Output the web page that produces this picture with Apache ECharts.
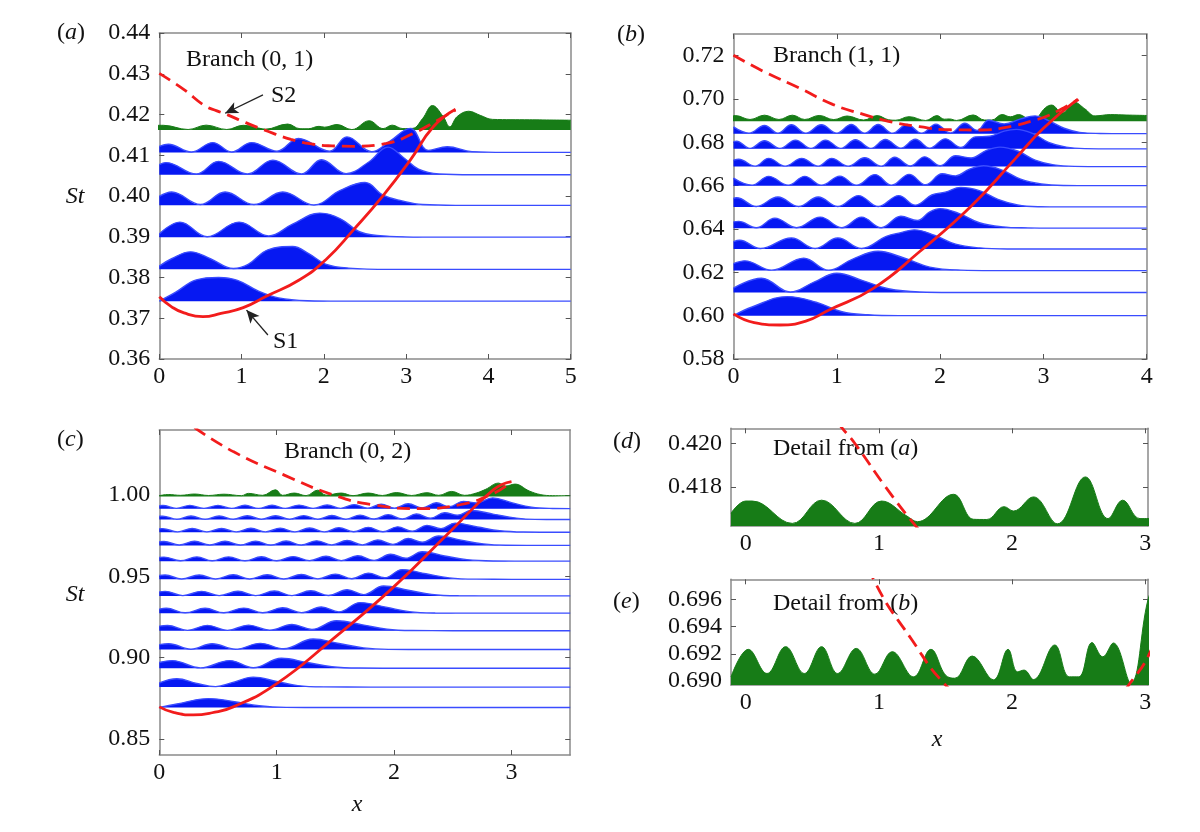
<!DOCTYPE html>
<html>
<head>
<meta charset="utf-8">
<script src="https://cdn.jsdelivr.net/npm/echarts@6/dist/echarts.min.js"></script>
<style>
html, body { margin: 0; background: #fff; }
#chart { width: 1200px; height: 832px; }
</style>
</head>
<body>
<div id="chart"></div>
<script>
// ---- axis ranges and ticks (a, b, c, d, e) ----
const xRanges = [[0, 5], [0, 4], [0, 3.5], [-0.11, 3.02], [-0.11, 3.02]];
const yRanges = [[0.36, 0.44], [0.58, 0.73], [0.84, 1.04], [0.4162, 0.4207], [0.6897, 0.6975]];
const xTicksA = [0, 1, 2, 3, 4, 5];
const xTicksB = [0, 1, 2, 3, 4];
const xTicksC = [0, 1, 2, 3];
const xTicksDE = [0, 1, 2, 3];
const yTicksA = [0.36, 0.37, 0.38, 0.39, 0.40, 0.41, 0.42, 0.43, 0.44];
const yTicksB = [0.58, 0.60, 0.62, 0.64, 0.66, 0.68, 0.70, 0.72];
const yTicksC = [0.85, 0.90, 0.95, 1.00];
const yTicksD = [0.418, 0.420];
const yTicksE = [0.690, 0.692, 0.694, 0.696];

// ---- panel (a), branch (0,1): baselines and profiles [x, height above baseline] ----
const basesA = [0.3742, 0.3820, 0.3899, 0.3977, 0.4052, 0.4107];
const rowA1 = [[0,0],[0.2,0.0022],[0.45,0.0052],[0.72,0.0058],[0.95,0.0051],[1.2,0.0025],[1.45,0.0008],[1.8,0.0001],[2.2,0],[5,0]];
const rowA2 = [[0,0.0008],[0.15,0.0026],[0.38,0.0043],[0.62,0.0026],[0.9,0.0002],[1.08,0.0012],[1.32,0.0048],[1.62,0.0056],[1.82,0.0038],[2.02,0.0013],[2.3,0.0003],[2.8,0],[5,0]];
const rowA3 = [[0,0.0008],[0.25,0.0037],[0.58,0.0001],[0.97,0.0037],[1.33,0.0003],[1.62,0.0032],[1.95,0.0059],[2.2,0.0045],[2.45,0.0012],[2.8,0.0002],[3.2,0],[5,0]];
const rowA4 = [[0,0.0022],[0.15,0.0033],[0.5,0.0002],[0.8,0.0033],[1.15,0.0002],[1.5,0.0033],[1.88,0.0001],[2.2,0.0037],[2.5,0.0056],[2.72,0.0025],[2.95,0.0011],[3.2,0.0002],[3.6,0],[5,0]];
const rowA5 = [[0,0.0025],[0.08,0.003],[0.45,0.0002],[0.72,0.0033],[1.07,0.0002],[1.38,0.0036],[1.73,0.0002],[1.97,0.0037],[2.27,0.0003],[2.55,0.0032],[2.78,0.0068],[2.97,0.0042],[3.15,0.0014],[3.4,0.0002],[3.8,0],[5,0]];
const rowA6 = [[0,0.0015],[0.11,0.002],[0.39,0.0001],[0.65,0.0024],[0.88,0.0001],[1.12,0.0024],[1.43,0.0003],[1.69,0.0034],[2.07,0.0003],[2.28,0.0038],[2.58,0.0002],[2.8,0.0027],[3.05,0.0059],[3.27,0.0005],[3.5,0.0014],[3.8,0.0002],[4.2,0],[5,0]];
const greenBaseA = 0.4162;
const greenA = [[-0.11,0.41679],[0,0.41735],[0.05,0.41735],[0.35,0.41632],[0.57,0.41739],[0.82,0.41632],[1.02,0.41735],[1.21,0.41666],[1.29,0.4164],[1.56,0.41766],[1.71,0.41651],[1.81,0.4165],[1.94,0.41709],[2.01,0.41689],[2.16,0.41754],[2.34,0.4163],[2.55,0.41846],[2.72,0.41654],[2.83,0.41739],[2.96,0.41654],[3.08,0.4166],[3.2,0.419],[3.32,0.4222],[3.45,0.4195],[3.53,0.417],[3.62,0.4195],[3.76,0.4208],[3.9,0.4198],[4.05,0.4188],[4.5,0.4187],[5,0.4186]];
const s1A = [[0,0.3753],[0.15,0.3728],[0.3,0.3713],[0.53,0.3704],[0.75,0.3712],[1.02,0.3726],[1.3,0.3754],[1.7,0.3794],[2.03,0.3845],[2.36,0.3917],[2.72,0.4001],[3.05,0.4088],[3.33,0.417],[3.6,0.4213]];
const s2A = [[0,0.4301],[0.3,0.4261],[0.55,0.4222],[0.7,0.4209],[0.82,0.42],[1.05,0.418],[1.27,0.41625],[1.6,0.4139],[1.87,0.4127],[2.1,0.4123],[2.36,0.4122],[2.76,0.4129],[3.09,0.4154],[3.4,0.4188],[3.6,0.4211]];
const arrowS2 = [[1.26, 0.4248], [0.80, 0.4203]];
const arrowS1 = [[1.32, 0.3659], [1.06, 0.3720]];

// ---- panel (b), branch (1,1) ----
const basesB = [0.6000, 0.6107, 0.6208, 0.6308, 0.6404, 0.6502, 0.6600, 0.6688, 0.6770, 0.6840];
const rowB1 = [[0,0],[0.18,0.004],[0.52,0.0088],[0.8,0.0062],[1.05,0.0018],[1.3,0.0004],[1.6,0],[4,0]];
const rowB2 = [[0,0.002],[0.27,0.0066],[0.55,0.0002],[0.78,0.0048],[1.0,0.0089],[1.25,0.0055],[1.5,0.0017],[1.8,0.0002],[2.1,0],[4,0]];
const rowB3 = [[0,0.0032],[0.11,0.0045],[0.37,0.0002],[0.68,0.0057],[0.92,0.0002],[1.15,0.0052],[1.4,0.0089],[1.65,0.0058],[1.9,0.0016],[2.2,0.0002],[2.5,0],[4,0]];
const rowB4 = [[0,0.0034],[0.06,0.004],[0.26,0.0002],[0.56,0.0051],[0.79,0.0002],[1.01,0.0051],[1.24,0.0002],[1.48,0.0058],[1.62,0.0075],[1.75,0.0088],[1.95,0.0062],[2.15,0.0022],[2.38,0.0005],[2.65,0],[4,0]];
const rowB5 = [[0,0.0029],[0.05,0.0031],[0.22,0.0002],[0.4,0.0046],[0.61,0.0002],[0.84,0.0051],[1.05,0.0002],[1.24,0.0051],[1.43,0.0002],[1.62,0.0055],[1.78,0.0035],[1.9,0.0075],[2.0,0.009],[2.18,0.0068],[2.38,0.0025],[2.6,0.0006],[2.85,0.0001],[3.1,0],[4,0]];
const rowB6 = [[0,0.004],[0.03,0.0042],[0.22,0.0002],[0.43,0.0046],[0.63,0.0002],[0.82,0.0046],[1.01,0.0002],[1.21,0.0052],[1.4,0.0002],[1.6,0.0052],[1.76,0.0008],[1.92,0.0055],[2.05,0.0068],[2.2,0.009],[2.38,0.0075],[2.56,0.0035],[2.75,0.0009],[2.95,0.0001],[3.2,0],[4,0]];
const rowB7 = [[0,0.0035],[0.18,0.0002],[0.34,0.0043],[0.53,0.0002],[0.69,0.0043],[0.85,0.0002],[1.03,0.0044],[1.19,0.0002],[1.37,0.0051],[1.53,0.0002],[1.7,0.0052],[1.86,0.0004],[2.02,0.0055],[2.15,0.0045],[2.28,0.0075],[2.42,0.0092],[2.6,0.0072],[2.78,0.003],[2.98,0.0008],[3.2,0.0001],[3.5,0],[4,0]];
const rowB8 = [[0,0.003],[0.05,0.0034],[0.21,0.0002],[0.34,0.0038],[0.5,0.0002],[0.66,0.0038],[0.82,0.0002],[0.95,0.0038],[1.11,0.0002],[1.27,0.0041],[1.43,0.0002],[1.56,0.0043],[1.71,0.0003],[1.85,0.0045],[2.0,0.0004],[2.15,0.005],[2.3,0.004],[2.45,0.0075],[2.58,0.009],[2.75,0.0072],[2.92,0.003],[3.1,0.0008],[3.3,0.0001],[3.6,0],[4,0]];
const rowB9 = [[0,0.0033],[0.03,0.0035],[0.16,0.0002],[0.3,0.0037],[0.45,0.0002],[0.6,0.004],[0.75,0.0002],[0.89,0.004],[1.04,0.0002],[1.18,0.0042],[1.33,0.0002],[1.47,0.0043],[1.62,0.0003],[1.76,0.0044],[1.9,0.0003],[2.05,0.0046],[2.2,0.0006],[2.34,0.0055],[2.48,0.0058],[2.62,0.0082],[2.74,0.009],[2.9,0.007],[3.05,0.003],[3.22,0.0008],[3.4,0.0001],[3.7,0],[4,0]];
const rowB10 = [[0,0.0031],[0.15,0.0002],[0.3,0.0038],[0.43,0.0002],[0.56,0.0041],[0.7,0.0002],[0.85,0.0041],[1.0,0.0002],[1.14,0.0042],[1.27,0.0002],[1.4,0.0042],[1.54,0.0002],[1.68,0.0043],[1.82,0.0002],[1.96,0.0044],[2.1,0.0003],[2.24,0.0048],[2.36,0.0015],[2.47,0.0062],[2.62,0.0045],[2.78,0.0068],[2.92,0.0082],[3.05,0.006],[3.2,0.0025],[3.35,0.0006],[3.55,0.0001],[3.8,0],[4,0]];
const greenBaseB = 0.6897;
const greenB = [[-0.11,0.6903],[0.02,0.69233],[0.16,0.69055],[0.3,0.69253],[0.44,0.69055],[0.57,0.69253],[0.69,0.69055],[0.83,0.6924],[0.97,0.6905],[1.1,0.69216],[1.26,0.6903],[1.39,0.69233],[1.5,0.69043],[1.57,0.6902],[1.7,0.69184],[1.86,0.69008],[1.97,0.69233],[2.04,0.69067],[2.09,0.6908],[2.16,0.6901],[2.32,0.69265],[2.43,0.6903],[2.5,0.6903],[2.6,0.69283],[2.68,0.69178],[2.76,0.6928],[2.89,0.68985],[3.02,0.696],[3.08,0.6972],[3.18,0.6935],[3.3,0.6985],[3.4,0.6955],[3.5,0.6922],[3.65,0.6928],[3.8,0.6926],[4,0.6924]];
const s1B = [[0,0.6008],[0.2,0.5968],[0.45,0.5957],[0.7,0.5975],[0.92,0.6025],[1.35,0.6125],[1.8,0.6295],[2.3,0.6505],[2.72,0.672],[3.0,0.6865],[3.33,0.6998]];
const s2B = [[0,0.7202],[0.3,0.7125],[0.64,0.705],[0.96,0.6975],[1.25,0.693],[1.5,0.6897],[1.8,0.6872],[2.1,0.6858],[2.4,0.6857],[2.7,0.6875],[2.89,0.6899],[3.02,0.6918],[3.2,0.696],[3.34,0.6998]];

// ---- panel (c), branch (0,2) ----
const basesC = [0.8692, 0.8818, 0.8934, 0.9049, 0.9165, 0.9273, 0.9379, 0.9481, 0.9593, 0.9690, 0.9771, 0.9849, 0.9916];
const rowC1 = [[0,0],[0.15,0.0022],[0.42,0.0055],[0.64,0.0036],[0.85,0.0011],[1.08,0.0001],[1.4,0],[3.5,0]];
const rowC2 = [[0,0.0025],[0.15,0.0051],[0.32,0.0022],[0.48,0.0003],[0.62,0.0027],[0.8,0.0061],[1.0,0.0035],[1.18,0.0009],[1.4,0.0001],[1.8,0],[3.5,0]];
const rowC3 = [[0,0.0035],[0.11,0.0047],[0.35,0.0002],[0.6,0.0047],[0.8,0.0003],[1.04,0.0061],[1.26,0.0035],[1.47,0.0009],[1.7,0.0001],[2.1,0],[3.5,0]];
const rowC4 = [[0,0.003],[0.08,0.0036],[0.27,0.0002],[0.45,0.0036],[0.65,0.0002],[0.86,0.0038],[1.06,0.0005],[1.31,0.0065],[1.53,0.0037],[1.74,0.001],[1.95,0.0001],[2.3,0],[3.5,0]];
const rowC5 = [[0,0.0028],[0.07,0.0032],[0.24,0.0002],[0.41,0.0033],[0.58,0.0002],[0.76,0.0034],[0.94,0.0003],[1.13,0.0038],[1.3,0.0008],[1.51,0.0061],[1.73,0.0036],[1.94,0.0009],[2.15,0.0001],[2.5,0],[3.5,0]];
const rowC6 = [[0,0.0025],[0.06,0.003],[0.22,0.0002],[0.39,0.003],[0.55,0.0002],[0.72,0.0031],[0.88,0.0002],[1.05,0.0033],[1.21,0.0003],[1.38,0.0038],[1.53,0.0008],[1.71,0.0065],[1.93,0.0037],[2.13,0.0009],[2.35,0.0001],[2.7,0],[3.5,0]];
const rowC7 = [[0,0.0025],[0.05,0.0028],[0.2,0.0002],[0.36,0.0028],[0.51,0.0002],[0.67,0.0029],[0.82,0.0002],[0.98,0.003],[1.13,0.0002],[1.29,0.0032],[1.44,0.0003],[1.6,0.0038],[1.74,0.0008],[1.91,0.0061],[2.12,0.0035],[2.32,0.0009],[2.55,0.0001],[2.9,0],[3.5,0]];
const rowC8 = [[0,0.0024],[0.05,0.0027],[0.19,0.0002],[0.34,0.0027],[0.48,0.0002],[0.63,0.0028],[0.77,0.0002],[0.92,0.0028],[1.06,0.0002],[1.21,0.003],[1.35,0.0003],[1.5,0.0032],[1.64,0.0004],[1.78,0.0038],[1.92,0.001],[2.07,0.006],[2.27,0.0034],[2.47,0.0009],[2.7,0.0001],[3.0,0],[3.5,0]];
const rowC9 = [[0,0.0023],[0.04,0.0025],[0.18,0.0002],[0.32,0.0026],[0.45,0.0002],[0.59,0.0026],[0.73,0.0002],[0.87,0.0027],[1.0,0.0002],[1.14,0.0028],[1.28,0.0003],[1.42,0.003],[1.55,0.0003],[1.69,0.0033],[1.83,0.0005],[1.97,0.0042],[2.1,0.0018],[2.24,0.0058],[2.43,0.0032],[2.62,0.0009],[2.85,0.0001],[3.1,0],[3.5,0]];
const rowC10 = [[0,0.0022],[0.04,0.0024],[0.17,0.0002],[0.3,0.0025],[0.43,0.0002],[0.56,0.0025],[0.69,0.0002],[0.82,0.0026],[0.95,0.0002],[1.08,0.0027],[1.21,0.0002],[1.34,0.0028],[1.47,0.0003],[1.6,0.003],[1.73,0.0003],[1.86,0.0033],[1.99,0.0006],[2.12,0.0042],[2.24,0.002],[2.38,0.0058],[2.57,0.0032],[2.76,0.0009],[2.95,0.0001],[3.2,0],[3.5,0]];
const rowC11 = [[0,0.0021],[0.03,0.0022],[0.155,0.0002],[0.28,0.0023],[0.405,0.0002],[0.53,0.0023],[0.655,0.0002],[0.78,0.0024],[0.905,0.0002],[1.03,0.0025],[1.155,0.0002],[1.28,0.0026],[1.405,0.0002],[1.53,0.0028],[1.655,0.0003],[1.78,0.003],[1.905,0.0003],[2.03,0.0033],[2.155,0.0006],[2.28,0.0042],[2.4,0.0022],[2.52,0.0056],[2.71,0.0032],[2.9,0.0009],[3.1,0.0001],[3.3,0],[3.5,0]];
const rowC12 = [[0,0.002],[0.03,0.0021],[0.15,0.0002],[0.27,0.0022],[0.39,0.0002],[0.51,0.0022],[0.63,0.0002],[0.75,0.0023],[0.87,0.0002],[0.99,0.0023],[1.11,0.0002],[1.23,0.0024],[1.35,0.0002],[1.47,0.0025],[1.59,0.0002],[1.71,0.0027],[1.83,0.0003],[1.95,0.003],[2.07,0.0003],[2.19,0.0034],[2.31,0.0008],[2.43,0.0042],[2.54,0.0027],[2.66,0.0056],[2.85,0.0032],[3.04,0.0009],[3.2,0.0001],[3.5,0]];
const rowC13 = [[0,0.0018],[0.03,0.0019],[0.145,0.0002],[0.26,0.002],[0.38,0.0002],[0.5,0.002],[0.615,0.0002],[0.73,0.0021],[0.845,0.0002],[0.96,0.0021],[1.075,0.0002],[1.19,0.0022],[1.31,0.0002],[1.43,0.0023],[1.545,0.0002],[1.66,0.0025],[1.775,0.0003],[1.89,0.0027],[2.005,0.0003],[2.12,0.003],[2.24,0.0004],[2.36,0.0036],[2.47,0.0012],[2.59,0.0045],[2.7,0.0035],[2.84,0.0066],[3.0,0.0037],[3.17,0.0009],[3.35,0.0001],[3.5,0]];
const greenBaseC = 0.9991;
const greenC = [[0,0.9996],[0.08,1.0003],[0.18,0.9998],[0.3,1.0006],[0.42,0.9997],[0.55,1.0005],[0.7,0.9996],[0.76,1.001],[0.88,0.9998],[0.99,1.0032],[1.05,0.9998],[1.15,1.0012],[1.25,0.9996],[1.35,1.003],[1.42,0.9999],[1.55,1.0012],[1.65,0.9996],[1.78,1.0012],[1.9,0.9997],[2.02,1.0015],[2.15,0.9997],[2.28,1.0014],[2.38,0.9998],[2.49,1.0022],[2.6,0.9998],[2.7,1.0012],[2.78,1.0035],[2.89,1.0073],[2.95,1.0055],[3.03,1.0067],[3.15,1.0025],[3.25,1.0002],[3.35,0.9996],[3.5,0.9995]];
const s1C = [[0,0.8696],[0.12,0.8662],[0.29,0.8647],[0.45,0.866],[0.63,0.8696],[1.0,0.8839],[1.48,0.9115],[1.99,0.943],[2.48,0.9777],[2.85,1.0035],[3.0,1.0083]];
const s2C = [[0.3,1.0415],[0.63,1.0267],[1.06,1.0124],[1.48,1.0001],[1.82,0.994],[2.22,0.9916],[2.56,0.994],[2.85,1.0011],[3.0,1.0083]];

// ---- layout ----
const FONT = '"Liberation Serif", "Times New Roman", serif';
const BLUE = '#0618f2';
const BLUE_LINE = '#3a4cff';
const GREEN = '#177c17';
const RED = '#f21c1c';
const grids = [
  { left: 159.3, top: 33, width: 411.4, height: 326 },
  { left: 733.5, top: 34, width: 413.2, height: 325 },
  { left: 159.3, top: 430, width: 410.9, height: 325 },
  { left: 731, top: 428.3, width: 417, height: 97.7 },
  { left: 731, top: 579.3, width: 417, height: 105.7 }
];
const xTicks = [xTicksA, xTicksB, xTicksC, xTicksDE, xTicksDE];
const yTicks = [yTicksA, yTicksB, yTicksC, yTicksD, yTicksE];
const yDigits = [2, 2, 2, 3, 3];

const xAxis = [], yAxis = [];
grids.forEach((g, i) => {
  const line = { onZero: false, lineStyle: { color: '#8a8a8a', width: 1.5 } };
  const tick = { inside: true, length: 5, customValues: xTicks[i], lineStyle: { color: '#555', width: 1 } };
  const xBase = { type: 'value', gridIndex: i, min: xRanges[i][0], max: xRanges[i][1], splitLine: { show: false }, axisLine: line };
  xAxis.push(Object.assign({}, xBase, {
    position: 'bottom', axisTick: tick,
    axisLabel: { customValues: xTicks[i], margin: 6, fontFamily: FONT, fontSize: 24, color: '#111', formatter: v => String(v) }
  }));
  xAxis.push(Object.assign({}, xBase, { position: 'top', axisTick: tick, axisLabel: { show: false } }));
  const ytick = Object.assign({}, tick, { customValues: yTicks[i] });
  const yBase = { type: 'value', gridIndex: i, min: yRanges[i][0], max: yRanges[i][1], splitLine: { show: false }, axisLine: line };
  yAxis.push(Object.assign({}, yBase, {
    position: 'left', axisTick: ytick,
    axisLabel: { customValues: yTicks[i], margin: 9, fontFamily: FONT, fontSize: 24, color: '#111', formatter: v => v.toFixed(yDigits[i]) }
  }));
  yAxis.push(Object.assign({}, yBase, { position: 'right', axisTick: ytick, axisLabel: { show: false } }));
});

const series = [];
function base(i) {
  return { type: 'line', xAxisIndex: i * 2, yAxisIndex: i * 2, symbol: 'none', silent: true, animation: false };
}
function green(i, pts, origin) {
  series.push(Object.assign(base(i), {
    data: pts, smooth: 0.4, z: 1,
    lineStyle: { color: GREEN, width: 1 },
    areaStyle: { color: GREEN, opacity: 1, origin: origin }
  }));
}
function rows(i, bases, profiles) {
  profiles.forEach((p, k) => {
    const b = bases[k];
    series.push(Object.assign(base(i), {
      data: p.map(d => [d[0], b + d[1]]), smooth: 0.4, z: 2,
      lineStyle: { color: BLUE_LINE, width: 1.4 },
      areaStyle: { color: BLUE, opacity: 1, origin: b }
    }));
  });
}
function red(i, pts, dashed) {
  series.push(Object.assign(base(i), {
    data: pts, smooth: 0.5, z: 3,
    lineStyle: { color: RED, width: 2.8, type: dashed ? [13, 7] : 'solid' }
  }));
}

green(0, greenA, greenBaseA);
rows(0, basesA, [rowA1, rowA2, rowA3, rowA4, rowA5, rowA6]);
red(0, s1A, false);
red(0, s2A, true);
series.push(Object.assign(base(0), {
  data: [], z: 4,
  markLine: {
    silent: true, animation: false, symbol: ['none', 'arrow'], symbolSize: [9, 13],
    label: { show: false },
    lineStyle: { color: '#222', width: 1.3, type: 'solid' },
    data: [
      [{ coord: arrowS2[0] }, { coord: arrowS2[1] }],
      [{ coord: arrowS1[0] }, { coord: arrowS1[1] }]
    ]
  }
}));

green(1, greenB, greenBaseB);
rows(1, basesB, [rowB1, rowB2, rowB3, rowB4, rowB5, rowB6, rowB7, rowB8, rowB9, rowB10]);
red(1, s1B, false);
red(1, s2B, true);

green(2, greenC, greenBaseC);
rows(2, basesC, [rowC1, rowC2, rowC3, rowC4, rowC5, rowC6, rowC7, rowC8, rowC9, rowC10, rowC11, rowC12, rowC13]);
red(2, s1C, false);
red(2, s2C, true);

green(3, greenA, greenBaseA);
red(3, s2A, true);
green(4, greenB, greenBaseB);
red(4, s2B, true);

// ---- text annotations ----
const rich = {
  n: { fontFamily: FONT, fontSize: 24, fontStyle: 'normal', fill: '#111' },
  i: { fontFamily: FONT, fontSize: 24, fontStyle: 'italic', fill: '#111' }
};
function txt(x, y, text, align) {
  return {
    type: 'text', x: x, y: y, silent: true,
    style: {
      text: text, rich: rich, fill: '#111',
      font: '24px ' + FONT,
      textAlign: align || 'left', textVerticalAlign: 'middle'
    }
  };
}
const graphic = [
  txt(57, 33, '{n|(}{i|a}{n|)}'),
  txt(617, 35, '{n|(}{i|b}{n|)}'),
  txt(57, 440, '{n|(}{i|c}{n|)}'),
  txt(613, 442, '{n|(}{i|d}{n|)}'),
  txt(613, 602, '{n|(}{i|e}{n|)}'),
  txt(75, 197, '{i|St}', 'center'),
  txt(75, 595, '{i|St}', 'center'),
  txt(357, 805, '{i|x}', 'center'),
  txt(937, 740, '{i|x}', 'center'),
  txt(186, 60, '{n|Branch (0, 1)}'),
  txt(773, 56, '{n|Branch (1, 1)}'),
  txt(284, 452, '{n|Branch (0, 2)}'),
  txt(773, 449, '{n|Detail from (}{i|a}{n|)}'),
  txt(773, 604, '{n|Detail from (}{i|b}{n|)}'),
  txt(271, 96, '{n|S2}'),
  txt(273, 342, '{n|S1}')
];

const chart = echarts.init(document.getElementById('chart'), null, { renderer: 'canvas' });
chart.setOption({
  animation: false,
  backgroundColor: '#fff',
  grid: grids,
  xAxis: xAxis,
  yAxis: yAxis,
  series: series,
  graphic: graphic
});
</script>
</body>
</html>
